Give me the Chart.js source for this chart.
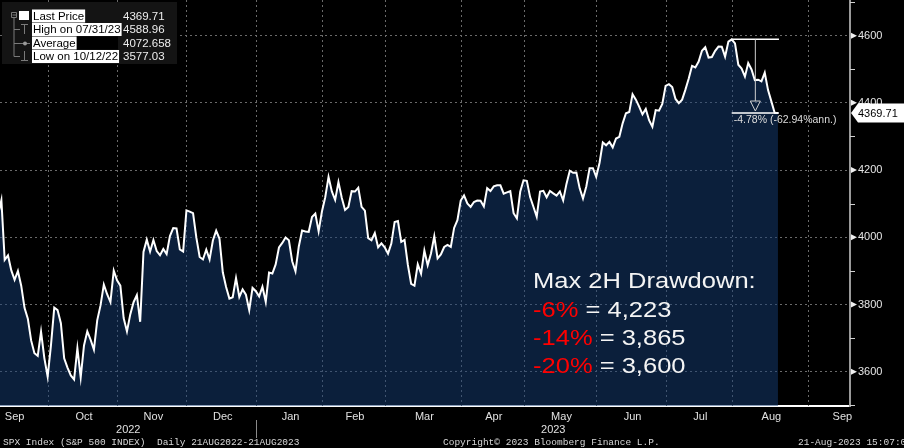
<!DOCTYPE html>
<html>
<head>
<meta charset="utf-8">
<script src="https://cdn.jsdelivr.net/npm/chart.js@4.4.0/dist/chart.umd.min.js"></script>
<style>
html, body { margin: 0; padding: 0; background: #000; overflow: hidden; }
#wrap { width: 904px; height: 448px; }
</style>
</head>
<body>
<div id="wrap"><canvas id="spx" width="904" height="448"></canvas></div>
<script>
// market holidays, used to build the trading-day axis
const holidays = [
    "2022-09-05", "2022-11-24", "2022-12-26", "2023-01-02", "2023-01-16",
    "2023-02-20", "2023-04-07", "2023-05-29", "2023-06-19", "2023-07-04", "2023-09-04"
];

// SPX daily closes, 22 Aug 2022 .. 18 Aug 2023
const closes = [
    4137.99, 4128.73, 4140.77, 4199.12, 4057.66, 4030.61, 3986.16, 3955.00,
    3966.85, 3924.26, 3908.19, 3979.87, 4006.18, 4067.36, 4110.41, 3932.69, 3946.01, 3901.35, 3873.33,
    3899.89, 3855.93, 3789.93, 3757.99, 3693.23, 3655.04, 3647.29, 3719.04, 3640.47, 3585.62,
    3678.43, 3790.93, 3783.28, 3744.52, 3639.66, 3612.39, 3588.84, 3577.03, 3669.91, 3583.07, 3677.95,
    3719.98, 3695.16, 3665.78, 3752.75, 3797.34, 3859.11, 3830.60, 3807.30, 3901.06, 3871.98,
    3856.10, 3759.69, 3719.89, 3770.55, 3806.80, 3828.11, 3748.57, 3956.37, 3992.93, 3957.25, 3991.73,
    3958.79, 3946.56, 3965.34, 3949.94, 4003.58, 4027.26, 4026.12, 3963.94, 3957.63, 4080.11,
    4076.57, 4071.70, 3998.84, 3941.26, 3933.92, 3963.51, 3934.38, 3990.56, 4019.65, 3995.32, 3895.75,
    3852.36, 3817.66, 3821.62, 3878.44, 3822.39, 3844.82, 3829.25, 3783.22, 3849.28, 3839.50,
    3824.14, 3852.97, 3808.10, 3895.08, 3892.09, 3919.25, 3969.61, 3983.17, 3999.09, 3990.97,
    3928.86, 3898.85, 3972.61, 4019.81, 4016.95, 4016.22, 4060.43, 4070.56, 4017.77, 4076.60,
    4119.21, 4179.76, 4136.48, 4111.08, 4164.00, 4117.86, 4081.50, 4090.46, 4137.29, 4136.13,
    4147.60, 4090.41, 4079.09, 3997.34, 3991.05, 4012.32, 3970.04, 3982.24, 3970.15,
    3951.39, 3981.35, 4045.64, 4048.42, 3986.37, 3992.01, 3918.32, 3861.59, 3855.76, 3919.29, 3891.93,
    3960.28, 3916.64, 3951.57, 4002.87, 3936.97, 3948.72, 3970.99, 3977.53, 3971.27, 4027.81, 4050.83, 4109.31,
    4124.51, 4100.60, 4090.38, 4105.02, 4109.11, 4108.94, 4091.95, 4146.22, 4137.64, 4151.32,
    4154.87, 4154.52, 4129.79, 4133.52, 4137.04, 4071.63, 4055.99, 4135.35, 4169.48,
    4167.87, 4119.58, 4090.75, 4061.22, 4136.25, 4138.12, 4119.17, 4137.64, 4130.62, 4124.08, 4136.28,
    4109.90, 4158.77, 4198.05, 4191.98, 4192.63, 4145.58, 4115.24, 4151.28, 4205.45, 4205.52, 4179.83,
    4221.02, 4282.37, 4273.79, 4283.85, 4267.52, 4293.93, 4298.86, 4338.93, 4369.01, 4372.59, 4425.84,
    4409.59, 4388.71, 4365.69, 4381.89, 4348.33, 4328.82, 4378.41, 4376.86, 4396.44, 4450.38,
    4455.59, 4446.82, 4411.59, 4398.95, 4409.53, 4439.26, 4472.16, 4510.04, 4505.42, 4522.79,
    4554.98, 4565.72, 4534.87, 4536.34, 4554.64, 4567.46, 4566.75, 4537.41, 4582.23, 4588.96,
    4576.73, 4513.39, 4501.89, 4478.03, 4518.44, 4499.38, 4467.71, 4468.83, 4464.05, 4489.72,
    4437.86, 4404.33, 4370.36, 4369.71
];

const averagePrice = 4072.658;   // as printed in the Bloomberg legend
const yTicks = [3600, 3800, 4000, 4200, 4400, 4600];
const yMinorTicks = [3500, 3700, 3900, 4100, 4300, 4500, 4700];
const monthNames = ["Jan", "Feb", "Mar", "Apr", "May", "Jun", "Jul", "Aug", "Sep", "Oct", "Nov", "Dec"];
const drawdownPct = ["-6%", "-14%", "-20%"];
const drawdownLevel = ["4,223", "3,865", "3,600"];

function tradingDays(start, end) {
    const out = [];
    const d = new Date(start + "T00:00:00Z");
    const e = new Date(end + "T00:00:00Z");
    while (d <= e) {
        const s = d.toISOString().slice(0, 10);
        const wd = d.getUTCDay();
        if (wd !== 0 && wd !== 6 && !holidays.includes(s)) out.push(s);
        d.setUTCDate(d.getUTCDate() + 1);
    }
    return out;
}

const days = tradingDays("2022-08-22", "2023-09-29");

// group trading days by month
const months = [];
days.forEach((s, i) => {
    const key = s.slice(0, 7);
    let m = months[months.length - 1];
    if (!m || m.key !== key) {
        months.push({ key: key, first: i, last: i });
    } else {
        m.last = i;
    }
});

const points = closes.map((v, i) => ({ x: i, y: v }));
const lastIdx = closes.length - 1;
const hiIdx = closes.indexOf(Math.max(...closes));
const loIdx = closes.indexOf(Math.min(...closes));

function fmtDate(s) {
    return s.slice(5, 7) + "/" + s.slice(8, 10) + "/" + s.slice(2, 4);
}

const FONT = "'Liberation Sans', Arial, sans-serif";
const MONO = "'Liberation Mono', 'DejaVu Sans Mono', monospace";

const bbgPlugin = {
    id: "bbg",
    beforeDatasetsDraw(chart) {
        const ctx = chart.ctx, xs = chart.scales.x, ca = chart.chartArea;
        ctx.save();
        ctx.strokeStyle = "#6a6a6a";
        ctx.lineWidth = 1;
        ctx.setLineDash([2, 3]);
        months.forEach(m => {
            if (m.last < xs.min || m.last > xs.max) return;
            const x = Math.round(xs.getPixelForValue(m.last)) + 0.5;
            ctx.beginPath();
            ctx.moveTo(x, ca.top);
            ctx.lineTo(x, ca.bottom);
            ctx.stroke();
        });
        ctx.restore();
    },
    afterDraw(chart) {
        const ctx = chart.ctx, xs = chart.scales.x, ys = chart.scales.y, ca = chart.chartArea;
        ctx.save();

        // right axis markers
        ctx.fillStyle = "#f0f0f0";
        yTicks.forEach(v => {
            const y = ys.getPixelForValue(v);
            ctx.beginPath();
            ctx.moveTo(ca.right + 1, y - 3);
            ctx.lineTo(ca.right + 7, y);
            ctx.lineTo(ca.right + 1, y + 3);
            ctx.closePath();
            ctx.fill();
        });
        ctx.strokeStyle = "#d0d0d0";
        ctx.lineWidth = 1;
        yMinorTicks.forEach(v => {
            if (v < ys.min || v > ys.max) return;
            const y = Math.round(ys.getPixelForValue(v)) + 0.5;
            ctx.beginPath();
            ctx.moveTo(ca.right, y);
            ctx.lineTo(ca.right + 5, y);
            ctx.stroke();
        });

        // last price tag
        const yl = ys.getPixelForValue(closes[lastIdx]);
        ctx.fillStyle = "#ffffff";
        ctx.beginPath();
        ctx.moveTo(ca.right + 1, yl);
        ctx.lineTo(ca.right + 8, yl - 9.5);
        ctx.lineTo(chart.width, yl - 9.5);
        ctx.lineTo(chart.width, yl + 9.5);
        ctx.lineTo(ca.right + 8, yl + 9.5);
        ctx.closePath();
        ctx.fill();
        ctx.fillStyle = "#000";
        ctx.font = "11px " + FONT;
        ctx.textBaseline = "middle";
        ctx.textAlign = "left";
        ctx.fillText(closes[lastIdx].toFixed(2), ca.right + 8, yl + 0.5);

        // drawdown from the high to the last price
        const x1 = xs.getPixelForValue(hiIdx);
        const x2 = xs.getPixelForValue(lastIdx) + 1;
        const yh = ys.getPixelForValue(closes[hiIdx]);
        const xm = (x1 + x2) / 2;
        ctx.strokeStyle = "#ffffff";
        ctx.lineWidth = 1.5;
        ctx.beginPath();
        ctx.moveTo(x1, yh); ctx.lineTo(x2, yh);
        ctx.moveTo(x1, yl); ctx.lineTo(x2, yl);
        ctx.stroke();
        ctx.strokeStyle = "#cfcfcf";
        ctx.lineWidth = 1;
        ctx.beginPath();
        ctx.moveTo(xm, yh); ctx.lineTo(xm, yl - 12);
        ctx.stroke();
        ctx.beginPath();
        ctx.moveTo(xm - 5, yl - 12);
        ctx.lineTo(xm + 5, yl - 12);
        ctx.lineTo(xm, yl - 2);
        ctx.closePath();
        ctx.stroke();
        const ddays = (Date.parse(days[lastIdx]) - Date.parse(days[hiIdx])) / 86400000;
        const chg = closes[lastIdx] / closes[hiIdx];
        const ann = Math.pow(chg, 365 / ddays) - 1;
        ctx.fillStyle = "#dcdcdc";
        ctx.font = "10.5px " + FONT;
        ctx.textBaseline = "middle";
        ctx.fillText(((chg - 1) * 100).toFixed(2) + "% (" + (ann * 100).toFixed(2) + "%ann.)", x1 + 2, yl + 7);

        // drawdown text block
        ctx.save();
        ctx.translate(533, 0);
        ctx.scale(1.16, 1);
        ctx.font = "22px " + FONT;
        ctx.textBaseline = "alphabetic";
        ctx.fillStyle = "#f4f4f4";
        ctx.fillText("Max 2H Drawdown:", 0, 288);
        drawdownPct.forEach((p, i) => {
            const yb = 317 + i * 28;
            ctx.fillStyle = "#ff0000";
            ctx.fillText(p, 0, yb);
            const w = ctx.measureText(p).width;
            ctx.fillStyle = "#f4f4f4";
            ctx.fillText(" = " + drawdownLevel[i], w, yb);
        });
        ctx.restore();

        // legend box
        ctx.fillStyle = "#141414";
        ctx.fillRect(2, 2, 175, 62);
        ctx.strokeStyle = "#7a7a7a";
        ctx.lineWidth = 1;
        ctx.beginPath();
        ctx.rect(11.5, 12.5, 5, 5);
        ctx.moveTo(12.5, 15); ctx.lineTo(16, 15);
        ctx.moveTo(14, 18); ctx.lineTo(14, 56.5);
        [29, 43, 56].forEach(y => { ctx.moveTo(14, y + 0.5); ctx.lineTo(20, y + 0.5); });
        // high marker
        ctx.moveTo(21, 24.5); ctx.lineTo(28, 24.5);
        ctx.moveTo(24.5, 24.5); ctx.lineTo(24.5, 34);
        // average marker
        ctx.moveTo(20, 43.5); ctx.lineTo(30, 43.5);
        // low marker
        ctx.moveTo(24.5, 51); ctx.lineTo(24.5, 60.5);
        ctx.moveTo(21, 60.5); ctx.lineTo(28, 60.5);
        ctx.stroke();
        ctx.fillStyle = "#9a9a9a";
        ctx.beginPath();
        ctx.arc(25, 43.5, 2, 0, Math.PI * 2);
        ctx.fill();
        ctx.fillStyle = "#ffffff";
        ctx.fillRect(19, 11, 10, 9);

        const rows = [
            ["Last Price", closes[lastIdx].toFixed(2), 16],
            ["High on " + fmtDate(days[hiIdx]), closes[hiIdx].toFixed(2), 29.5],
            ["Average", averagePrice.toFixed(3), 43],
            ["Low on " + fmtDate(days[loIdx]), closes[loIdx].toFixed(2), 56.5]
        ];
        ctx.font = "11.5px " + FONT;
        ctx.textBaseline = "middle";
        rows.forEach((r, i) => {
            const w = ctx.measureText(r[0]).width;
            if (i === 2) {
                ctx.fillStyle = "#000";
                ctx.fillRect(32, r[2] - 6.5, 86, 13);
            }
            ctx.fillStyle = "#ffffff";
            ctx.fillRect(32, r[2] - 6.5, w + 2, 13);
            ctx.fillStyle = "#000";
            ctx.fillText(r[0], 33, r[2] + 0.5);
            ctx.fillStyle = "#ededed";
            ctx.fillText(r[1], 123, r[2] + 0.5);
        });

        // year row
        const dec = months.find(m => m.key === "2022-12");
        const xb = Math.round(xs.getPixelForValue(dec.last)) + 0.5;
        ctx.strokeStyle = "#8a8a8a";
        ctx.beginPath();
        ctx.moveTo(xb, ca.bottom + 14);
        ctx.lineTo(xb, ca.bottom + 32);
        ctx.stroke();
        ctx.fillStyle = "#e0e0e0";
        ctx.font = "11px " + FONT;
        ctx.textAlign = "center";
        ctx.fillText("2022", (ca.left + xb) / 2, ca.bottom + 24);
        ctx.fillText("2023", (xb + ca.right) / 2, ca.bottom + 24);

        // footer
        ctx.textAlign = "left";
        ctx.font = "9.5px " + MONO;
        ctx.fillStyle = "#d8d8d8";
        ctx.fillText("SPX Index (S&P 500 INDEX)  Daily 21AUG2022-21AUG2023", 3, 442);
        ctx.fillText("Copyright\u00a9 2023 Bloomberg Finance L.P.", 443, 442);
        ctx.fillText("21-Aug-2023 15:07:09", 798, 442);
        ctx.restore();
    }
};

const monthTicks = months.map(m => ({
    value: (m.first + m.last) / 2,
    label: monthNames[parseInt(m.key.slice(5, 7), 10) - 1]
}));

new Chart(document.getElementById("spx"), {
    type: "line",
    data: {
        datasets: [{
            label: "Last Price",
            data: points,
            borderColor: "#ffffff",
            borderWidth: 2,
            pointRadius: 0,
            tension: 0,
            fill: "start",
            backgroundColor: "rgba(22, 62, 118, 0.5)"
        }]
    },
    options: {
        responsive: false,
        animation: false,
        layout: { padding: 0 },
        plugins: { legend: { display: false }, tooltip: { enabled: false } },
        scales: {
            x: {
                type: "linear",
                min: 13.58,
                max: 270.8,
                grid: { display: false, drawTicks: false },
                border: { display: true, color: "#ffffff", width: 2 },
                afterBuildTicks(scale) {
                    scale.ticks = monthTicks
                        .filter(t => t.value >= scale.min && t.value <= scale.max)
                        .map(t => ({ value: t.value }));
                },
                afterFit(scale) {
                    scale.height = 42;
                    scale.paddingLeft = 0;
                    scale.paddingRight = 0;
                },
                ticks: {
                    autoSkip: false,
                    maxRotation: 0,
                    padding: 4,
                    color: "#e0e0e0",
                    font: { family: FONT, size: 11 },
                    callback(value) {
                        const t = monthTicks.find(m => Math.abs(m.value - value) < 0.01);
                        return t ? t.label : "";
                    }
                }
            },
            y: {
                position: "right",
                min: 3498,
                max: 4706,
                grid: { color: "#6a6a6a", lineWidth: 1, drawTicks: false },
                border: { display: true, color: "#9a9a9a", width: 2, dash: [2, 3] },
                afterBuildTicks(scale) {
                    scale.ticks = yTicks.map(v => ({ value: v }));
                },
                afterFit(scale) {
                    scale.width = 54;
                    scale.paddingTop = 0;
                    scale.paddingBottom = 0;
                },
                ticks: {
                    padding: 8,
                    color: "#e6e6e6",
                    font: { family: FONT, size: 11 },
                    callback(value) { return String(value); }
                }
            }
        }
    },
    plugins: [bbgPlugin]
});
</script>
</body>
</html>
